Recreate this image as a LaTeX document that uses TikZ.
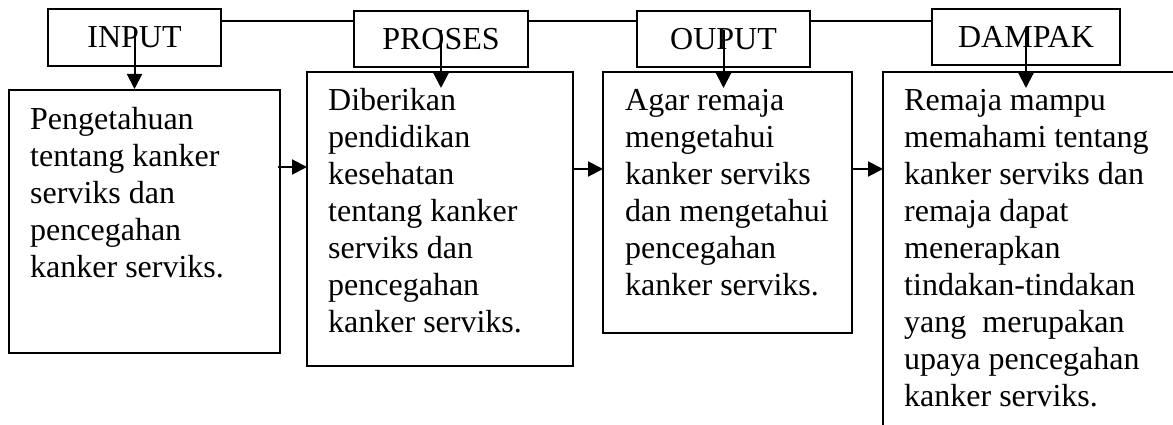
\documentclass[tikz,border=0pt]{standalone}
\usepackage{fontspec}
\setmainfont{Liberation Serif}
\usetikzlibrary{arrows.meta}
\begin{document}
\begin{tikzpicture}[x=1pt,y=-1pt,
  hdr/.style={draw,line width=2pt,inner sep=0pt,font=\fontsize{32}{37}\selectfont},
  bx/.style={draw,line width=2pt},
  txt/.style={inner sep=0pt,align=left,font=\fontsize{32}{37}\selectfont},
  link/.style={line width=1.2pt},
  arr/.style={line width=2pt,-{Triangle[width=15pt,length=15pt]}}]
\useasboundingbox (0,0) rectangle (1173,425);
\clip (0,0) rectangle (1173,425);
% header boxes
\node[hdr,minimum width=173pt,minimum height=57pt] (h1) at (134.5,37.5) {INPUT};
\node[hdr,minimum width=174pt,minimum height=56pt] (h2) at (441,39) {PROSES};
\node[hdr,minimum width=173pt,minimum height=56pt] (h3) at (723.5,39) {OUPUT};
\node[hdr,minimum width=188pt,minimum height=56pt] (h4) at (1026,37) {DAMPAK};
% content boxes
\draw[bx] (9,90) rectangle (280,353);
\coordinate (b1w) at (9,221);
\coordinate (b1e) at (280,221);
\draw[bx] (307,72) rectangle (573,366);
\coordinate (b2w) at (307,219);
\coordinate (b2e) at (573,219);
\draw[bx] (603,72) rectangle (852,333);
\coordinate (b3w) at (603,202);
\coordinate (b3e) at (852,202);
\draw[bx] (1200,72) -- (883,72) -- (883,450);
\coordinate (b4w) at (883,202);
% texts (anchored at the baseline of the last line)
\node[txt,anchor=base west] (t1) at (30,277) {Pengetahuan\\tentang kanker\\serviks dan\\pencegahan\\kanker serviks.};
\node[txt,anchor=base west] (t2) at (328,332) {Diberikan\\pendidikan\\kesehatan\\tentang kanker\\serviks dan\\pencegahan\\kanker serviks.};
\node[txt,anchor=base west] (t3) at (625,295) {Agar remaja\\mengetahui\\kanker serviks\\dan mengetahui\\pencegahan\\kanker serviks.};
\node[txt,anchor=base west] (t4) at (904,406) {Remaja mampu\\memahami tentang\\kanker serviks dan\\remaja dapat\\menerapkan\\tindakan-tindakan\\yang\ \ merupakan\\upaya pencegahan\\kanker serviks.};
% header links
\draw[link] (h1.east |- 0,21) -- (h2.west |- 0,21);
\draw[link] (h2.east |- 0,21) -- (h3.west |- 0,21);
\draw[link] (h3.east |- 0,21) -- (h4.west |- 0,21);
% vertical arrows
\draw[arr] (h1.center |- 0,28) -- (h1.center |- 0,89);
\draw[arr] (h2.center |- 0,30) -- (h2.center |- 0,88);
\draw[arr] (h3.center |- 0,30) -- (h3.center |- 0,88);
\draw[arr] (h4.center |- 0,30) -- (h4.center |- 0,88);
% horizontal arrows
\draw[arr] ([xshift=-2pt]b1e |- 0,167) -- (b2w |- 0,167);
\draw[arr] (b2e |- 0,169) -- (b3w |- 0,169);
\draw[arr] (b3e |- 0,169) -- (b4w |- 0,169);
\end{tikzpicture}
\end{document}
